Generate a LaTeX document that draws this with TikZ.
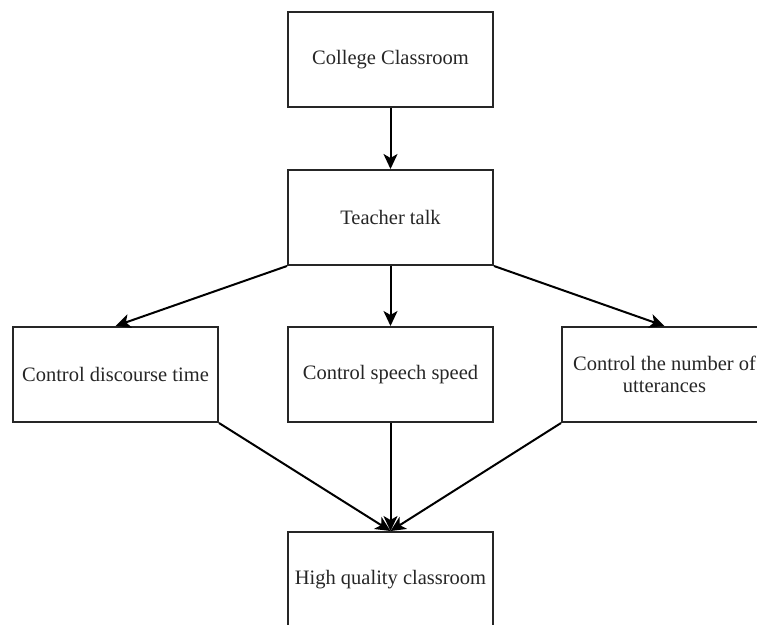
\documentclass[tikz,border=0pt]{standalone}
\usepackage{fontspec}
\setmainfont{Liberation Serif}
\usetikzlibrary{arrows.meta}
\begin{document}
\begin{tikzpicture}[x=1pt,y=-1pt,
  box/.style={draw=black!85, line width=2pt, rectangle, minimum width=205pt, minimum height=95pt,
    align=center, font=\fontsize{20.5}{22.5}\selectfont, text=black!85, inner sep=0pt},
  conn/.style={draw=black, line width=2pt, -{Stealth[length=15pt,width=14pt,inset=4pt]}}]
\useasboundingbox (0,0) rectangle (757,624);
\clip (0,0) rectangle (757,624);
\fill[white] (0,0) rectangle (757,624);
\node[box] (cc) at (390.5,59.5) {College Classroom};
\node[box] (tt) at (390.5,217.5) {Teacher talk};
\node[box] (cdt) at (115.5,374.5) {Control discourse time};
\node[box] (css) at (390.5,374.5) {Control speech speed};
\node[box] (cnu) at (664.5,374.5) {Control the number of\\utterances};
\node[box] (hqc) at (390.5,579.5) {High quality classroom};
\draw[conn] (cc.south) -- (tt.north);
\draw[conn] (tt.south west) -- (cdt.north);
\draw[conn] (tt.south) -- (css.north);
\draw[conn] (tt.south east) -- (cnu.north);
\draw[conn] (cdt.south east) -- (hqc.north);
\draw[conn] (css.south) -- (hqc.north);
\draw[conn] (cnu.south west) -- (hqc.north);
\end{tikzpicture}
\end{document}
